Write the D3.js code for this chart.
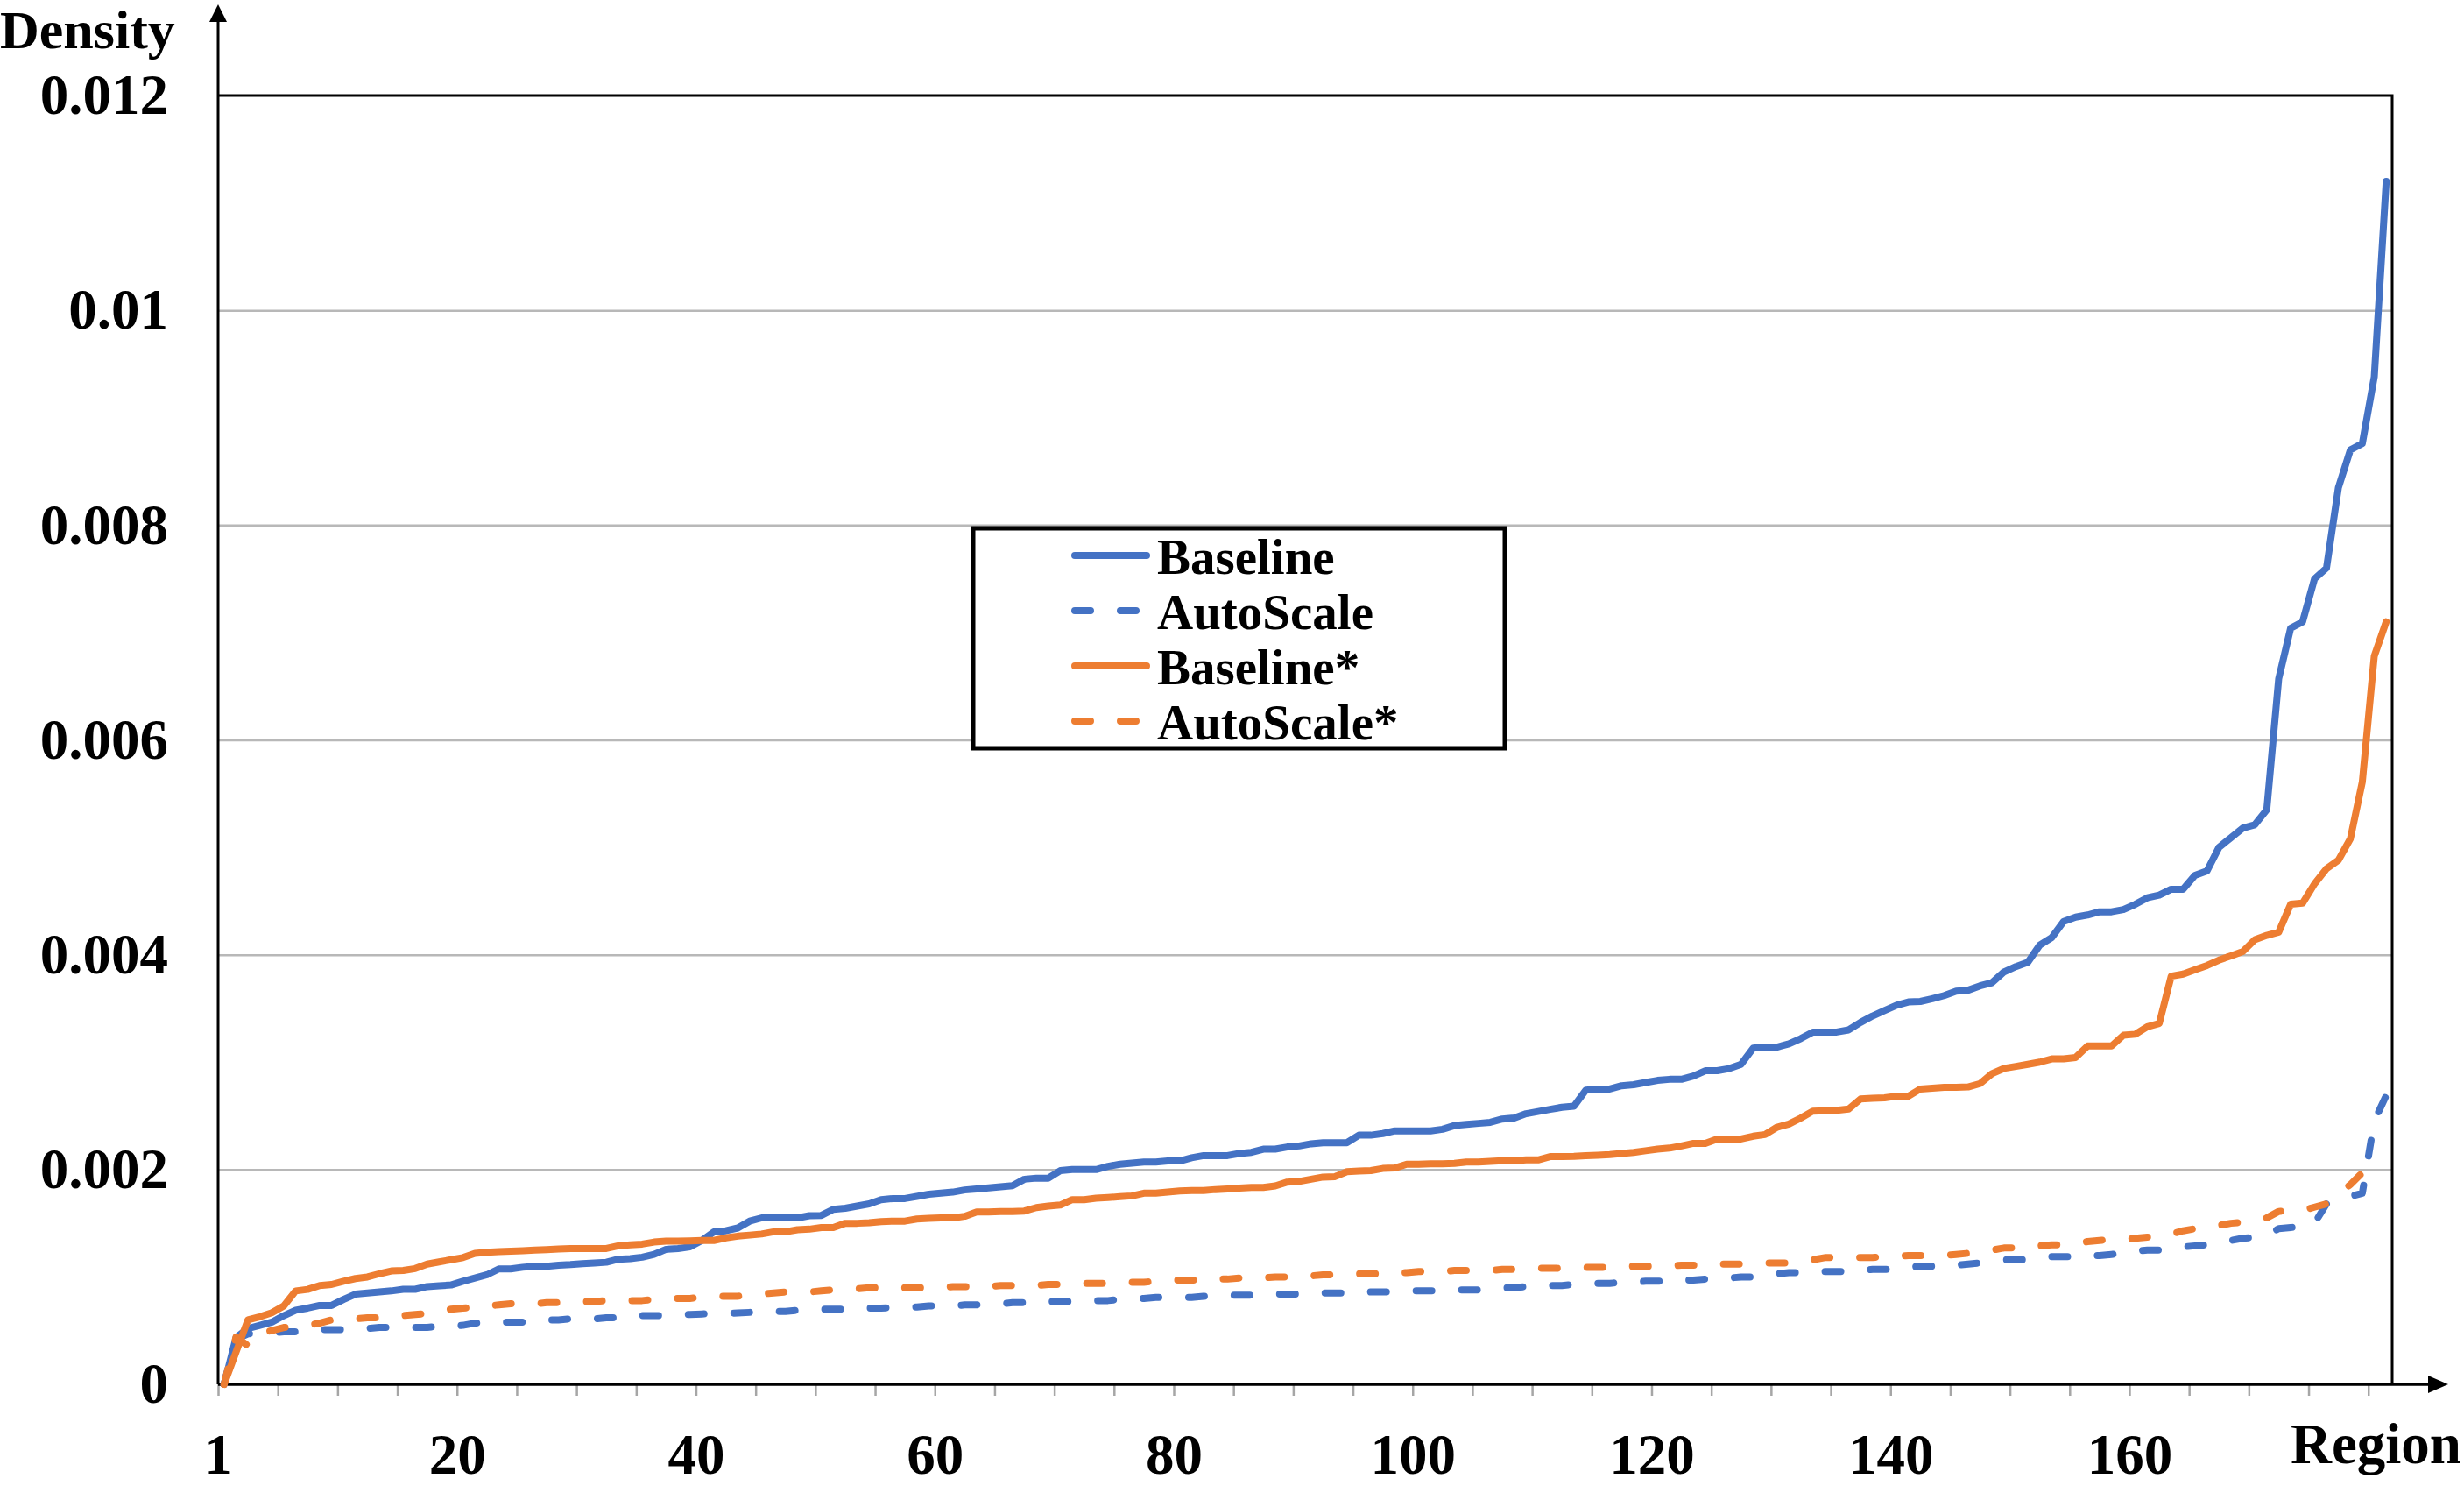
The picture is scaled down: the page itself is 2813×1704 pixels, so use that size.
<!DOCTYPE html>
<html>
<head>
<meta charset="utf-8">
<script src="https://cdn.jsdelivr.net/npm/d3@7"></script>
<style>
  body { margin: 0; background: #fff; }
  text { font-family: "Liberation Serif", "Times New Roman", serif; font-weight: bold; fill: #000; }
</style>
</head>
<body>
<div id="chart"></div>
<script>
// Density per region, sorted ascending
const baseline = [
  0, 0.000435, 0.00052, 0.00055, 0.00058, 0.00064, 0.00069, 0.00071, 0.000735, 0.000735,
  0.00079, 0.00084, 0.00085, 0.00086, 0.00087, 0.000885, 0.000885, 0.00091, 0.000917, 0.000925,
  0.00096, 0.00099, 0.00102, 0.001075, 0.001075, 0.00109, 0.0011, 0.0011, 0.00111, 0.001115,
  0.001124, 0.00113, 0.001137, 0.001165, 0.00117, 0.001184, 0.00121, 0.001257, 0.001265, 0.00128,
  0.00134, 0.00142, 0.00143, 0.001456, 0.00152, 0.00155, 0.00155, 0.00155, 0.00155, 0.00157,
  0.001573, 0.00163, 0.00164, 0.00166, 0.00168, 0.00172, 0.00173, 0.00173, 0.00175, 0.00177,
  0.00178, 0.00179, 0.00181, 0.00182, 0.00183, 0.00184, 0.00185, 0.00191, 0.00192, 0.00192,
  0.00199, 0.002, 0.002, 0.002, 0.00203, 0.00205, 0.00206, 0.00207, 0.00207, 0.00208,
  0.00208, 0.00211, 0.00213, 0.00213, 0.00213, 0.00215, 0.00216, 0.00219, 0.00219, 0.00221,
  0.00222, 0.00224, 0.00225, 0.00225, 0.00225, 0.00232, 0.00232, 0.002335, 0.00236, 0.00236,
  0.00236, 0.00236, 0.002375, 0.00241, 0.00242, 0.00243, 0.00244, 0.00247, 0.00248, 0.00252,
  0.00254, 0.00256, 0.00258, 0.00259, 0.00274, 0.00275, 0.00275, 0.00278, 0.00279, 0.00281,
  0.00283, 0.00284, 0.00284, 0.00287, 0.00292, 0.00292, 0.00294, 0.00298, 0.00313, 0.00314,
  0.00314, 0.00317, 0.00322, 0.00328, 0.00328, 0.00328, 0.0033, 0.00337, 0.00343, 0.00348,
  0.00353, 0.00356, 0.003565, 0.00359, 0.00362, 0.00366, 0.00367, 0.00371, 0.00374, 0.00384,
  0.00389, 0.00393, 0.00409, 0.00416, 0.00431, 0.00435, 0.00437, 0.0044, 0.0044, 0.00442,
  0.00447, 0.00453, 0.004555, 0.00461, 0.00461, 0.00474, 0.00478, 0.005, 0.00509, 0.00518,
  0.00521, 0.00535, 0.00657, 0.00704, 0.0071, 0.0075, 0.0076, 0.00835, 0.0087, 0.00876,
  0.00938, 0.0112
];

const autoScale = [
  0, 0.00042, 0.00047, 0.00048, 0.00048, 0.00049, 0.00049, 0.0005, 0.00051, 0.00051,
  0.00051, 0.00051, 0.00052, 0.00053, 0.00053, 0.00053, 0.00053, 0.00053, 0.00054, 0.00054,
  0.00055, 0.00057, 0.00058, 0.00058, 0.00058, 0.00058, 0.00059, 0.0006, 0.0006, 0.00061,
  0.00061, 0.00061, 0.00062, 0.00062, 0.00063, 0.00064, 0.00064, 0.00064, 0.00065, 0.00065,
  0.000655, 0.00066, 0.00066, 0.000665, 0.00067, 0.00068, 0.00068, 0.00068, 0.00069, 0.0007,
  0.0007, 0.0007, 0.0007, 0.00071, 0.00071, 0.00071, 0.000715, 0.00072, 0.00072, 0.00073,
  0.00073, 0.00073, 0.00074, 0.00074, 0.00075, 0.00075, 0.00076, 0.00076, 0.00077, 0.00077,
  0.00077, 0.00077, 0.00078, 0.00078, 0.00078, 0.00079, 0.00079, 0.0008, 0.00081, 0.00081,
  0.00081, 0.00081, 0.00082, 0.00082, 0.00083, 0.00083, 0.00083, 0.00084, 0.00084, 0.00084,
  0.00084, 0.00085, 0.00085, 0.00085, 0.00085, 0.00085, 0.00086, 0.00086, 0.00086, 0.00087,
  0.00087, 0.00087, 0.00087, 0.00088, 0.00088, 0.00088, 0.00089, 0.0009, 0.0009, 0.00091,
  0.00091, 0.00092, 0.00092, 0.00093, 0.00093, 0.00094, 0.00094, 0.00095, 0.00095, 0.00096,
  0.00096, 0.00096, 0.00097, 0.00097, 0.00098, 0.00098, 0.00099, 0.001, 0.001, 0.00101,
  0.00103, 0.00104, 0.00104, 0.00104, 0.00105, 0.00105, 0.00105, 0.00106, 0.00107, 0.00107,
  0.00107, 0.00109, 0.0011, 0.0011, 0.0011, 0.00111, 0.00112, 0.00113, 0.00114, 0.00116,
  0.00116, 0.00116, 0.00117, 0.00119, 0.00119, 0.00119, 0.0012, 0.0012, 0.00121, 0.00122,
  0.00124, 0.00125, 0.00125, 0.00126, 0.00128, 0.00129, 0.0013, 0.00131, 0.00134, 0.00136,
  0.00137, 0.00139, 0.00145, 0.00146, 0.00147, 0.0015, 0.00168, 0.00172, 0.00175, 0.00178,
  0.00245, 0.00269
];

const baselineStar = [
  0, 0.0003, 0.0006, 0.00063, 0.000667, 0.00073, 0.00087, 0.000884, 0.00092, 0.00093,
  0.00096, 0.000985, 0.001, 0.00103, 0.001056, 0.00106, 0.001078, 0.00112, 0.00114, 0.00116,
  0.00118, 0.00122, 0.00123, 0.001235, 0.00124, 0.001244, 0.00125, 0.001254, 0.00126, 0.001265,
  0.001265, 0.001265, 0.001265, 0.00129, 0.0013, 0.001306, 0.001325, 0.001333, 0.001333, 0.001336,
  0.00134, 0.00134, 0.001364, 0.00138, 0.00139, 0.0014, 0.00142, 0.00142, 0.00144, 0.001445,
  0.00146, 0.00146, 0.0015, 0.0015, 0.001505, 0.001515, 0.00152, 0.00152, 0.00154, 0.001545,
  0.00155, 0.00155, 0.001565, 0.001605, 0.001605, 0.00161, 0.00161, 0.001614, 0.001646, 0.00166,
  0.00167, 0.00172, 0.00172, 0.001733, 0.00174, 0.001747, 0.001755, 0.00178, 0.00178, 0.00179,
  0.0018, 0.001805, 0.001805, 0.001814, 0.00182, 0.001828, 0.001834, 0.001834, 0.001848, 0.001883,
  0.00189, 0.00191, 0.00193, 0.001934, 0.00198, 0.001986, 0.00199, 0.00201, 0.002014, 0.00205,
  0.00205, 0.002054, 0.002054, 0.002057, 0.00207, 0.00207, 0.002077, 0.002083, 0.002083, 0.00209,
  0.00209, 0.00212, 0.00212, 0.002123, 0.00213, 0.002134, 0.00214, 0.00215, 0.00216, 0.002175,
  0.00219, 0.0022, 0.00222, 0.002244, 0.002244, 0.002285, 0.002285, 0.002285, 0.00231, 0.002326,
  0.002394, 0.002424, 0.00248, 0.002544, 0.002548, 0.002552, 0.002563, 0.002657, 0.002664, 0.002668,
  0.002683, 0.002683, 0.00275, 0.002758, 0.002765, 0.002765, 0.002769, 0.0028, 0.002893, 0.002942,
  0.00296, 0.00298, 0.003, 0.00303, 0.00303, 0.003043, 0.00315, 0.00315, 0.00315, 0.00325,
  0.00326, 0.00333, 0.00336, 0.0038, 0.00382, 0.00386, 0.0039, 0.00395, 0.00399, 0.00403,
  0.00414, 0.00418, 0.00421, 0.00447, 0.00448, 0.00466, 0.0048, 0.00488, 0.00508, 0.00561,
  0.00678, 0.0071
];

const autoScaleStar = [
  0, 0.00044, 0.00036, 0.00048, 0.0005, 0.00053, 0.00054, 0.00055, 0.00057, 0.0006,
  0.0006, 0.00061, 0.00062, 0.00062, 0.00063, 0.00064, 0.00065, 0.00066, 0.00068, 0.0007,
  0.00071, 0.00072, 0.00073, 0.00074, 0.00075, 0.00075, 0.00075, 0.00076, 0.00076, 0.00077,
  0.00077, 0.00077, 0.00078, 0.00078, 0.00078, 0.00078, 0.00079, 0.00079, 0.0008, 0.0008,
  0.00081, 0.00082, 0.00082, 0.00082, 0.00083, 0.00084, 0.00085, 0.00086, 0.00086, 0.00086,
  0.00087, 0.00088, 0.00089, 0.00089, 0.0009, 0.0009, 0.0009, 0.0009, 0.0009, 0.0009,
  0.0009, 0.00091, 0.00091, 0.00091, 0.00091, 0.00092, 0.00092, 0.00092, 0.00092, 0.00093,
  0.00093, 0.00094, 0.00094, 0.00094, 0.00094, 0.00094, 0.00095, 0.00095, 0.00096, 0.00097,
  0.00097, 0.00097, 0.00097, 0.00098, 0.00098, 0.00099, 0.00099, 0.00099, 0.001, 0.001,
  0.001, 0.00101, 0.00102, 0.00102, 0.00102, 0.00103, 0.00103, 0.00103, 0.00104, 0.00104,
  0.00105, 0.00105, 0.00105, 0.00106, 0.00106, 0.00106, 0.00106, 0.00107, 0.00107, 0.00107,
  0.00108, 0.00108, 0.00108, 0.00108, 0.00109, 0.00109, 0.00109, 0.00109, 0.0011, 0.0011,
  0.0011, 0.0011, 0.00111, 0.00111, 0.00111, 0.00112, 0.00112, 0.00112, 0.00112, 0.00113,
  0.00113, 0.00113, 0.00114, 0.00116, 0.00118, 0.00118, 0.00118, 0.00118, 0.00118, 0.00119,
  0.00119, 0.0012, 0.0012, 0.0012, 0.0012, 0.00121, 0.00122, 0.00124, 0.00125, 0.00127,
  0.00127, 0.00128, 0.00129, 0.0013, 0.0013, 0.00131, 0.00133, 0.00134, 0.00135, 0.00135,
  0.00136, 0.00137, 0.00138, 0.0014, 0.00143, 0.00145, 0.00146, 0.00148, 0.0015, 0.00151,
  0.00152, 0.00155, 0.00161, 0.00162, 0.00162, 0.00165, 0.00168, 0.00177, 0.00186, 0.00197,
  0.00203, 0.00207
];

const seriesNames = ["Baseline", "AutoScale", "Baseline*", "AutoScale*"];
const seriesValues = [baseline, autoScale, baselineStar, autoScaleStar];

const yTicks = [0, 0.002, 0.004, 0.006, 0.008, 0.01, 0.012];
const yTickLabels = ["0", "0.002", "0.004", "0.006", "0.008", "0.01", "0.012"];
const xTicks = [0, 20, 40, 60, 80, 100, 120, 140, 160];
const xTickLabels = ["1", "20", "40", "60", "80", "100", "120", "140", "160"];

// Layout
const W = 2813, H = 1704;
const margin = { top: 109, right: 82, bottom: 124, left: 249 },
      width = W - margin.left - margin.right,
      height = H - margin.top - margin.bottom;

const blue = "#4472C4", orange = "#ED7D31";
const colors = [blue, blue, orange, orange];
const dashed = [false, true, false, true];
const dashPattern = "18,34";

const svg = d3.select("#chart")
  .append("svg")
  .attr("width", W)
  .attr("height", H)
  .style("display", "block");

svg.append("rect").attr("width", W).attr("height", H).attr("fill", "#fff");

const g = svg.append("g")
  .attr("transform", `translate(${margin.left},${margin.top})`);

const x = d3.scaleLinear()
  .domain([0, baseline.length])
  .range([0, width]);

const y = d3.scaleLinear()
  .domain([0, 0.012])
  .range([height, 0]);

// Gridlines
const grid = g.append("g")
  .call(d3.axisLeft(y).tickValues(yTicks.slice(1, -1)).tickSize(-width).tickFormat(""));
grid.select(".domain").remove();
grid.selectAll("line").attr("stroke", "#b8b8b8").attr("stroke-width", 2.5);

// y tick labels
const yAxis = g.append("g")
  .call(d3.axisLeft(y).tickValues(yTicks).tickSize(0).tickPadding(57)
    .tickFormat((d, i) => yTickLabels[i]));
yAxis.select(".domain").remove();
yAxis.selectAll("text")
  .style("font-size", "65px")
  .style("font-family", "'Liberation Serif', 'Times New Roman', serif")
  .style("font-weight", "bold")
  .attr("fill", "#000");

// x minor ticks every 5 regions
const xTickAxis = g.append("g")
  .attr("transform", `translate(0,${height})`)
  .call(d3.axisBottom(x).tickValues(d3.range(0, 181, 5)).tickSize(13).tickFormat(""));
xTickAxis.select(".domain").remove();
xTickAxis.selectAll("line").attr("stroke", "#a6a6a6").attr("stroke-width", 2.5);

// x tick labels
const xAxis = g.append("g")
  .attr("transform", `translate(0,${height})`)
  .call(d3.axisBottom(x).tickValues(xTicks).tickSize(0).tickPadding(56)
    .tickFormat((d, i) => xTickLabels[i]));
xAxis.select(".domain").remove();
xAxis.selectAll("text")
  .style("font-size", "65px")
  .style("font-family", "'Liberation Serif', 'Times New Roman', serif")
  .style("font-weight", "bold")
  .attr("fill", "#000");

// Plot border (top and right)
g.append("path")
  .attr("d", `M0,0H${width}V${height}`)
  .attr("fill", "none")
  .attr("stroke", "#000")
  .attr("stroke-width", 3);

// Axes with arrows
const yTip = 5 - margin.top;
const xTip = 2795 - margin.left;
g.append("line")
  .attr("x1", 0).attr("y1", height).attr("x2", 0).attr("y2", yTip + 10)
  .attr("stroke", "#000").attr("stroke-width", 3);
g.append("path")
  .attr("d", `M0,${yTip}L-10,${yTip + 20}L10,${yTip + 20}Z`)
  .attr("fill", "#000");
g.append("line")
  .attr("x1", 0).attr("y1", height).attr("x2", xTip - 10).attr("y2", height)
  .attr("stroke", "#000").attr("stroke-width", 3.5);
g.append("path")
  .attr("d", `M${xTip},${height}L${xTip - 23},${height - 10}L${xTip - 23},${height + 10}Z`)
  .attr("fill", "#000");

// Lines
const line = d3.line()
  .x((d, i) => x(i + 0.5))
  .y(d => y(d));

seriesValues.forEach((vals, k) => {
  g.append("path")
    .datum(vals)
    .attr("d", line)
    .attr("fill", "none")
    .attr("stroke", colors[k])
    .attr("stroke-width", 8)
    .attr("stroke-linejoin", "round")
    .attr("stroke-linecap", "round")
    .attr("stroke-dasharray", dashed[k] ? dashPattern : null);
});

// Axis titles
svg.append("text")
  .attr("x", 0)
  .attr("y", 55)
  .style("font-size", "62px")
  .text("Density");

svg.append("text")
  .attr("x", 2810)
  .attr("y", 1670)
  .attr("text-anchor", "end")
  .style("font-size", "65px")
  .text("Region");

// Legend
const legend = svg.append("g");
legend.append("rect")
  .attr("x", 1111).attr("y", 603)
  .attr("width", 607).attr("height", 251)
  .attr("fill", "#fff")
  .attr("stroke", "#000")
  .attr("stroke-width", 5);

const rowY = d3.scalePoint().domain(seriesNames).range([634, 823]);

seriesNames.forEach((name, k) => {
  legend.append("line")
    .attr("x1", 1227).attr("x2", 1309)
    .attr("y1", rowY(name)).attr("y2", rowY(name))
    .attr("stroke", colors[k])
    .attr("stroke-width", 8)
    .attr("stroke-linecap", "round")
    .attr("stroke-dasharray", dashed[k] ? dashPattern : null);
  legend.append("text")
    .attr("x", 1321)
    .attr("y", rowY(name) + 21)
    .style("font-size", "57px")
    .text(name);
});
</script>
</body>
</html>
